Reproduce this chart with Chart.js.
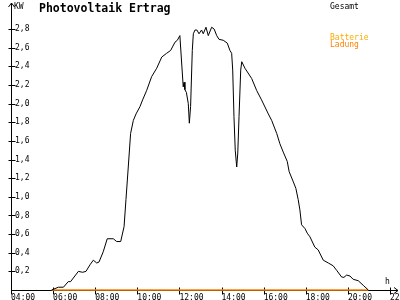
<!DOCTYPE html>
<html>
<head>
<meta charset="utf-8">
<script src="https://cdn.jsdelivr.net/npm/chart.js@4/dist/chart.umd.min.js"></script>
<style>
  html, body { margin: 0; padding: 0; background: #fff; }
  #wrap { width: 400px; height: 300px; }
</style>
</head>
<body>
<div id="wrap"><canvas id="chart" width="400" height="300"></canvas></div>
<script>
// Tagesverlauf, Zeit in Stunden, Leistung in kW
const gesamtZeit = [
  5.93, 6.25, 6.49, 6.72, 6.83, 7.20, 7.40, 7.56, 7.75, 7.91, 8.07, 8.18, 8.38, 8.57, 8.86, 9.02,
  9.21, 9.37, 9.46, 9.57, 9.68, 9.81, 9.94, 10.13, 10.25, 10.44, 10.68, 10.92, 11.16, 11.39, 11.58,
  11.79, 11.90, 12.02, 12.18, 12.22, 12.26, 12.33, 12.42, 12.47, 12.53, 12.61, 12.66, 12.74, 12.83,
  12.93, 13.05, 13.13, 13.26, 13.37, 13.53, 13.65, 13.77, 13.88, 14.08, 14.27, 14.40, 14.48, 14.53,
  14.59, 14.65, 14.72, 14.77, 14.83, 14.91, 14.96, 15.11, 15.43, 15.67, 15.90, 16.22, 16.38, 16.62,
  16.77, 16.93, 17.12, 17.21, 17.41, 17.53, 17.64, 17.72, 17.80, 17.96, 18.07, 18.20, 18.43, 18.59,
  18.83, 19.07, 19.30, 19.47, 19.70, 19.81, 19.94, 20.10, 20.25, 20.49, 20.73, 20.97
];
const gesamtKW = [
  0, 0.03, 0.03, 0.09, 0.09, 0.20, 0.19, 0.20, 0.27, 0.32, 0.29, 0.30, 0.41, 0.55, 0.55, 0.52,
  0.52, 0.68, 0.97, 1.32, 1.68, 1.82, 1.89, 1.97, 2.04, 2.14, 2.29, 2.38, 2.50, 2.54, 2.57,
  2.66, 2.68, 2.73, 2.18, 2.23, 2.15, 2.12, 2.00, 1.79, 1.97, 2.57, 2.75, 2.79, 2.79,
  2.75, 2.79, 2.75, 2.82, 2.73, 2.82, 2.80, 2.73, 2.69, 2.68, 2.65, 2.57, 2.54, 2.36,
  1.86, 1.50, 1.32, 1.47, 1.86, 2.36, 2.45, 2.38, 2.27, 2.14, 2.04, 1.89, 1.82, 1.68,
  1.57, 1.48, 1.38, 1.27, 1.16, 1.09, 0.97, 0.86, 0.70, 0.66, 0.61, 0.57, 0.46, 0.43,
  0.32, 0.29, 0.26, 0.21, 0.14, 0.135, 0.16, 0.15, 0.115, 0.10, 0.05, 0
];
const ladungZeit = [5.93, 20.97];
const ladungKW = [0, 0];

const stundenTicks = [4, 6, 8, 10, 12, 14, 16, 18, 20, 22];
const kwTicks = [0.2, 0.4, 0.6, 0.8, 1.0, 1.2, 1.4, 1.6, 1.8, 2.0, 2.2, 2.4, 2.6, 2.8];

const mono = '"DejaVu Sans Mono", monospace';

function punkte(xs, ys) {
  return xs.map((x, i) => ({ x: x, y: ys[i] }));
}

// Achsen mit Pfeilen und Kreuz-Strichen, Beschriftungen oben
const achsen = {
  id: 'achsen',
  beforeDatasetsDraw(chart) {
    const { ctx, chartArea: a, scales } = chart;
    const x0 = Math.round(a.left) + 0.5;
    const y0 = Math.round(a.bottom) + 0.5;
    ctx.save();
    ctx.strokeStyle = '#000';
    ctx.lineWidth = 1;
    ctx.beginPath();
    ctx.moveTo(x0, y0); ctx.lineTo(x0, a.top);
    ctx.moveTo(x0, y0); ctx.lineTo(a.right, y0);
    ctx.moveTo(x0 - 3, a.top + 4); ctx.lineTo(x0, a.top); ctx.lineTo(x0 + 3, a.top + 4);
    ctx.moveTo(a.right - 4, y0 - 3); ctx.lineTo(a.right, y0); ctx.lineTo(a.right - 4, y0 + 3);
    scales.y.ticks.forEach(t => {
      const py = Math.round(scales.y.getPixelForValue(t.value)) + 0.5;
      ctx.moveTo(x0 - 3, py); ctx.lineTo(x0 + 4, py);
    });
    scales.x.ticks.forEach(t => {
      const px = Math.round(scales.x.getPixelForValue(t.value)) + 0.5;
      ctx.moveTo(px, y0 - 3); ctx.lineTo(px, y0 + 4);
    });
    ctx.stroke();
    ctx.restore();
  },
  afterDraw(chart) {
    const ctx = chart.ctx;
    ctx.save();
    ctx.textBaseline = 'alphabetic';
    ctx.fillStyle = '#000';
    ctx.font = 'bold 11.5px ' + mono;
    ctx.fillText('Photovoltaik Ertrag', 39, 12);
    ctx.font = '8px ' + mono;
    ctx.fillText('KW', 14, 9);
    ctx.fillText('Gesamt', 330, 8.5);
    ctx.fillText('h', 385, 284);
    ctx.fillStyle = '#ffaa00';
    ctx.fillText('Batterie', 330, 39.5);
    ctx.fillStyle = '#ff8000';
    ctx.fillText('Ladung', 330, 46.5);
    ctx.restore();
  }
};

new Chart(document.getElementById('chart'), {
  type: 'line',
  data: {
    datasets: [{
      label: 'Gesamt',
      data: punkte(gesamtZeit, gesamtKW),
      borderColor: '#000',
      borderWidth: 1,
      pointRadius: 0,
      tension: 0,
      clip: false
    }, {
      label: 'Batterie Ladung',
      data: punkte(ladungZeit, ladungKW),
      borderColor: '#ff8000',
      borderWidth: 1.5,
      pointRadius: 0,
      tension: 0,
      clip: false
    }]
  },
  options: {
    responsive: false,
    animation: false,
    devicePixelRatio: 1,
    layout: { padding: { top: 3, right: 2, left: 0, bottom: 0 } },
    plugins: {
      legend: { display: false },
      tooltip: { enabled: false },
      title: { display: false }
    },
    scales: {
      x: {
        type: 'linear',
        min: 4,
        max: 22.38,
        grid: { display: false, drawTicks: false },
        border: { display: false },
        afterBuildTicks: s => { s.ticks = stundenTicks.map(v => ({ value: v })); },
        afterFit: s => { s.height = 10; s.paddingLeft = 0; s.paddingRight = 0; },
        ticks: {
          align: 'start',
          maxRotation: 0,
          autoSkip: false,
          padding: 3,
          color: '#000',
          font: { family: mono, size: 8 },
          callback: v => String(v).padStart(2, '0') + ':00'
        }
      },
      y: {
        min: 0,
        max: 3.08,
        grid: { display: false, drawTicks: false },
        border: { display: false },
        afterBuildTicks: s => { s.ticks = kwTicks.map(v => ({ value: v })); },
        afterFit: s => { s.width = 11; s.paddingTop = 0; s.paddingBottom = 0; },
        ticks: {
          mirror: true,
          padding: 4,
          color: '#000',
          font: { family: mono, size: 8 },
          callback: v => v.toFixed(1).replace('.', ',')
        }
      }
    }
  },
  plugins: [achsen]
});
</script>
</body>
</html>
